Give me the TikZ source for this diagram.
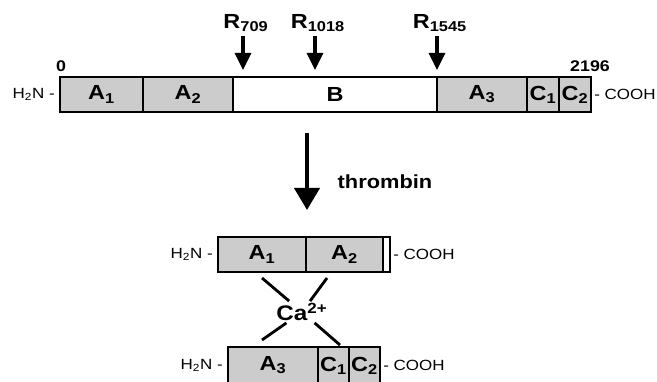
\documentclass[tikz,border=0pt]{standalone}
\usepackage{fontspec}
\setmainfont{Liberation Sans}[FakeStretch=1.15]
\usetikzlibrary{arrows.meta, positioning}

\begin{document}
\begin{tikzpicture}[x=0.25mm, y=-0.25mm,
    dom/.style={rectangle, draw=black, fill=gray!40, line width=1.7pt,
                minimum height=8.75mm, inner sep=0pt, outer sep=0pt,
                font=\bfseries\fontsize{14.5}{15}\selectfont},
    term/.style={inner sep=0pt, font=\fontsize{10.5}{11}\selectfont},
    num/.style={inner sep=0pt, font=\bfseries\fontsize{11}{12}\selectfont},
    site/.style={inner sep=0pt, outer sep=1mm, font=\bfseries\fontsize{14.5}{15}\selectfont},
    lbl/.style={inner sep=0pt, outer sep=0.5mm, font=\bfseries\fontsize{13.5}{14}\selectfont},
    cut/.style={-{Triangle[width=4mm, length=4.25mm]}, line width=0.8mm},
    bigcut/.style={-{Triangle[width=6.25mm, length=5.5mm]}, line width=1mm},
    bond/.style={line width=2pt}
]
    \useasboundingbox (0,0) rectangle (657,382);
    % full chain
    \node[dom, minimum width=20.75mm, anchor=west] (a1) at (60,94.5) {A\textsubscript{1}};
    \node[dom, minimum width=22.5mm, right=0pt of a1] (a2) {A\textsubscript{2}};
    \node[dom, minimum width=51mm, fill=white, right=0pt of a2] (b) {B};
    \node[dom, minimum width=22.5mm, right=0pt of b] (a3) {A\textsubscript{3}};
    \node[dom, minimum width=8mm, right=0pt of a3] (c1) {C\textsubscript{1}};
    \node[dom, minimum width=8mm, right=0pt of c1] (c2) {C\textsubscript{2}};
    \node[term, left=1.25mm of a1] (n0) {H\textsubscript{2}N -};
    \node[term, right=0.75mm of c2] (k0) {- COOH};
    \node[num] (first) at (61,66) {0};
    \node[num] (last) at (590,66) {2196};
    % cleavage sites
    \node[site] (r709) at (246,23) {R\textsubscript{709}};
    \node[site] (r1018) at (318,23) {R\textsubscript{1018}};
    \node[site] (r1545) at (440,23) {R\textsubscript{1545}};
    \coordinate (p709) at (243,70);
    \coordinate (p1018) at (315,70);
    \coordinate (p1545) at (437,70);
    \draw[cut] (p709 |- r709.south) -- (p709);
    \draw[cut] (p1018 |- r1018.south) -- (p1018);
    \draw[cut] (p1545 |- r1545.south) -- (p1545);
    % thrombin
    \coordinate (t1) at (307,133);
    \coordinate (t2) at (307,210);
    \draw[bigcut] (t1) -- (t2);
    \node[lbl] (thr) at (385,182) {thrombin};
    % heavy chain
    \node[dom, minimum width=22mm, anchor=west] (h1) at (218,254.5) {A\textsubscript{1}};
    \node[dom, minimum width=19.25mm, right=0pt of h1] (h2) {A\textsubscript{2}};
    \node[dom, minimum width=1.75mm, fill=white, right=0pt of h2] (hs) {};
    \node[term, left=1.25mm of h1] (n1) {H\textsubscript{2}N -};
    \node[term, right=0.75mm of hs] (k1) {- COOH};
    % light chain
    \node[dom, minimum width=22.5mm, minimum height=9.25mm, anchor=west] (l3) at (228,365.5) {A\textsubscript{3}};
    \node[dom, minimum width=7.75mm, minimum height=9.25mm, right=0pt of l3] (l4) {C\textsubscript{1}};
    \node[dom, minimum width=7.75mm, minimum height=9.25mm, right=0pt of l4] (l5) {C\textsubscript{2}};
    \node[term, left=1.25mm of l3] (n2) {H\textsubscript{2}N -};
    \node[term, right=0.75mm of l5] (k2) {- COOH};
    % calcium bridge
    \node[lbl, font=\bfseries\fontsize{15}{16}\selectfont] (ca) at (302,312) {Ca\textsuperscript{2+}};
    \coordinate (q1) at (262,278);
    \coordinate (q2) at (327,278);
    \coordinate (q3) at (262,340);
    \coordinate (q4) at (340,345);
    \draw[bond] (q1) -- (ca);
    \draw[bond] (q2) -- (ca);
    \draw[bond] (q3) -- (ca);
    \draw[bond] (q4) -- (ca);
\end{tikzpicture}
\end{document}
